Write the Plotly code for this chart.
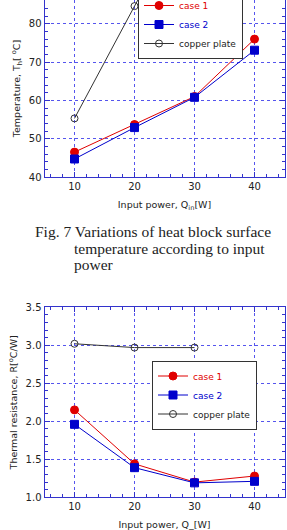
import plotly.graph_objects as go

power = [10, 20, 30, 40]
temp_case1 = [46.5, 53.7, 61.0, 76.0]
temp_case2 = [44.7, 52.9, 60.8, 73.1]
temp_copper = [55.3, 84.6, 113.0, 125.0]

res_power = [10, 20, 30, 40]
res_case1 = [2.15, 1.44, 1.20, 1.28]
res_case2 = [1.96, 1.39, 1.19, 1.21]
copper_power = [10, 20, 30]
res_copper = [3.02, 2.97, 2.97]

caption = ["Fig. 7 Variations of heat block surface",
           "temperature according to input",
           "power"]

W, H = 287, 530
BLUE = "#3333cc"
GRID = "#5555ee"
TXT = "#222222"
FONT = "DejaVu Sans"

def py(px):
    return (H - px) / H

fig = go.Figure()

def add_series(x, y, color, symbol, size, name, xa, ya, legend, fill=None):
    fig.add_trace(go.Scatter(
        x=x, y=y, mode="lines+markers", xaxis=xa, yaxis=ya, legend=legend,
        name="<span style='color:%s'>%s</span>" % (color if name != "copper plate" else "#222222", name),
        line=dict(color=color, width=1),
        marker=dict(symbol=symbol, size=size, color=fill if fill else color,
                    line=dict(color=color, width=1))))

add_series(power, temp_case1, "#e00000", "circle", 8, "case 1", "x", "y", "legend")
add_series(power, temp_case2, "#0000cc", "square", 8, "case 2", "x", "y", "legend")
add_series(power, temp_copper, "#333333", "circle-open", 7, "copper plate", "x", "y", "legend")

add_series(res_power, res_case1, "#e00000", "circle", 8, "case 1", "x2", "y2", "legend2")
add_series(res_power, res_case2, "#0000cc", "square", 8, "case 2", "x2", "y2", "legend2")
add_series(copper_power, res_copper, "#333333", "circle-open", 7, "copper plate", "x2", "y2", "legend2")

xdom = [44.5 / W, 284.5 / W]
axis_common = dict(
    showline=True, linecolor=BLUE, linewidth=1,
    showgrid=True, gridcolor=GRID, griddash="dot", gridwidth=1,
    ticks="inside", ticklen=5, tickcolor=BLUE, tickwidth=1,
    zeroline=False,
    tickfont=dict(family=FONT, size=10, color=TXT),
)

def minor(d):
    return dict(ticks="inside", ticklen=3, tickcolor=BLUE, dtick=d, showgrid=False)

def title(t):
    return dict(text=t, standoff=10, font=dict(family=FONT, size=9.5, color=TXT))

fig.update_layout(
    width=W, height=H, margin=dict(l=0, r=0, t=0, b=0, autoexpand=False),
    paper_bgcolor="white", plot_bgcolor="white",
    font=dict(family=FONT, size=10, color=TXT),
    xaxis=dict(domain=xdom, anchor="y", range=[5, 45], dtick=10, mirror=False,
               minor=minor(2), **axis_common,
               title=title("Input power, Q<sub>in</sub>[W]")),
    yaxis=dict(domain=[py(177), 1], anchor="x", range=[40, 86.2], dtick=10, mirror="ticks",
               minor=minor(2), **axis_common,
               title=dict(text="Temperature, T<sub>h</sub>[ <sup>o</sup>C]", standoff=6,
                          font=dict(family=FONT, size=9.5, color=TXT))),
    xaxis2=dict(domain=xdom, anchor="y2", range=[5, 45], dtick=10, mirror="ticks",
                minor=minor(2), **axis_common,
                title=title("Input power, Q_[W]")),
    yaxis2=dict(domain=[py(497.3), py(307.3)], anchor="x2", range=[1.0, 3.5], dtick=0.5,
                tickformat=".1f", mirror="ticks",
                minor=minor(0.1), **axis_common,
                title=dict(text="Thermal resistance, R[<sup>o</sup>C/W]", standoff=6,
                           font=dict(family=FONT, size=9.5, color=TXT))),
    legend=dict(x=138 / W, y=py(-10), xanchor="left", yanchor="top",
                bgcolor="white", bordercolor="#333333", borderwidth=1,
                font=dict(family=FONT, size=9), itemwidth=30),
    legend2=dict(x=152 / W, y=py(395), xanchor="left", yanchor="middle",
                 bgcolor="white", bordercolor="#333333", borderwidth=1,
                 font=dict(family=FONT, size=9), itemwidth=30),
)

cap_pos = [(33, 231), (72, 248), (72, 264)]
for txt, (cx, cy) in zip(caption, cap_pos):
    fig.add_annotation(text=txt, xref="paper", yref="paper", x=cx / W, y=py(cy),
                       xanchor="left", yanchor="middle", showarrow=False,
                       font=dict(family="Liberation Serif", size=15.5, color="#222222"))

fig.write_html("out.html")
